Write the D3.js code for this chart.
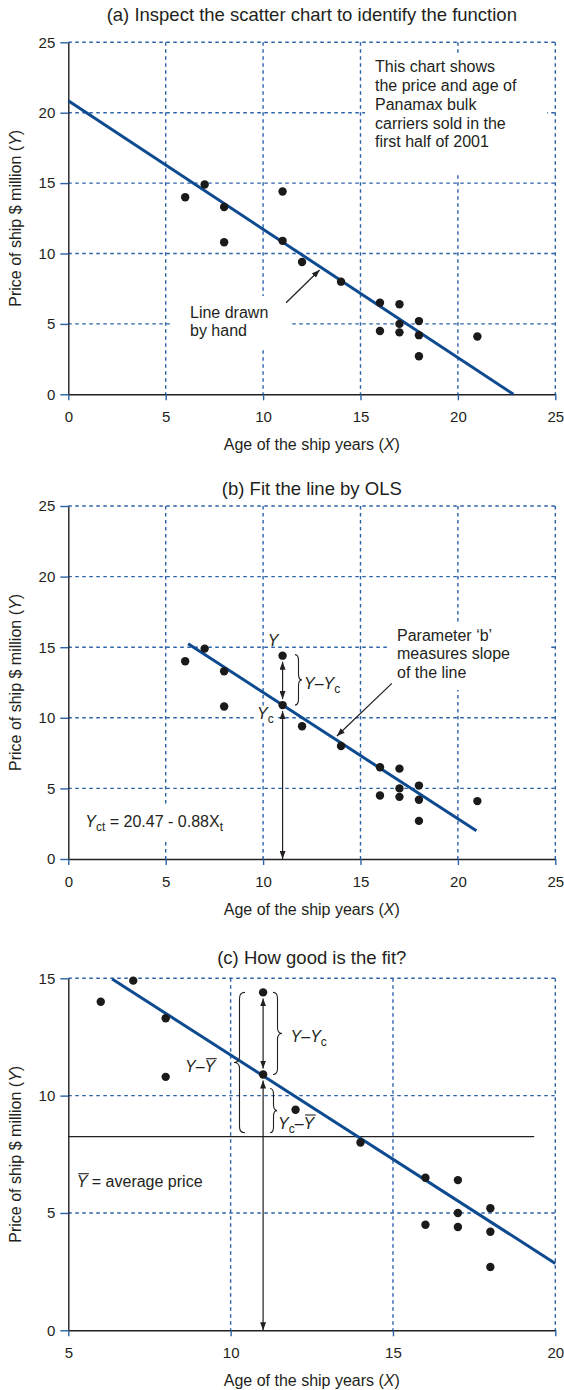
<!DOCTYPE html>
<html>
<head>
<meta charset="utf-8">
<script src="https://cdn.jsdelivr.net/npm/d3@7"></script>
<style>
  body { margin: 0; background: #fff; }
  text { font-family: "Liberation Sans", Arial, sans-serif; fill: #231f20; }
</style>
</head>
<body>
<svg id="chart"></svg>
<script>
// Panamax bulk carriers sold in the first half of 2001
const shipAge   = [6, 7, 11, 8, 8, 11, 12, 14, 16, 17, 16, 17, 17, 18, 18, 18, 21];
const shipPrice = [14.0, 14.9, 14.4, 13.3, 10.8, 10.9, 9.4, 8.0, 6.5, 6.4, 4.5, 5.0, 4.4, 5.2, 4.2, 2.7, 4.1];

// fitted lines
const handLine = [[0, 20.85], [22.85, 0]];
const olsLineB = [[6.15, 15.25], [20.95, 2.0]];
const olsLineC = [[6.35, 14.97], [20, 2.85]];
const avgPrice = 8.25;
const avgLineX = [5, 19.35];

const ticksAB = [0, 5, 10, 15, 20, 25];
const ticksCX = [5, 10, 15, 20];
const ticksCY = [0, 5, 10, 15];

const titles = ["(a) Inspect the scatter chart to identify the function",
                "(b) Fit the line by OLS",
                "(c) How good is the fit?"];
const noteA = ["This chart shows", "the price and age of", "Panamax bulk", "carriers sold in the", "first half of 2001"];
const noteHand = ["Line drawn", "by hand"];
const noteB = ["Parameter \u2018b\u2019", "measures slope", "of the line"];

const W = 564, H = 1390;
const left = 68.3, right = 555.3;
const gridBlue = "#2a62a8", lineBlue = "#0d4a8f", ink = "#231f20";

const svg = d3.select("#chart").attr("width", W).attr("height", H);

const defs = svg.append("defs");
defs.append("marker")
    .attr("id", "head")
    .attr("viewBox", "0 0 8 6")
    .attr("refX", 8).attr("refY", 3)
    .attr("markerWidth", 8).attr("markerHeight", 6)
    .attr("markerUnits", "userSpaceOnUse")
    .attr("orient", "auto-start-reverse")
  .append("path").attr("d", "M0,0L8,3L0,6Z").attr("fill", ink);

const panels = [
  { top: 42.3,  bottom: 394.3,  titleY: 15,    xd: [0, 25], yd: [0, 25], xt: ticksAB, yt: ticksAB },
  { top: 506,   bottom: 859,    titleY: 488.3, xd: [0, 25], yd: [0, 25], xt: ticksAB, yt: ticksAB },
  { top: 978.3, bottom: 1330.3, titleY: 957.3, xd: [5, 20], yd: [0, 15], xt: ticksCX, yt: ticksCY }
];

function drawPanel(p, i) {
  const x = d3.scaleLinear().domain(p.xd).range([left, right]);
  const y = d3.scaleLinear().domain(p.yd).range([p.bottom, p.top]);
  const g = svg.append("g");

  // dotted grid
  g.selectAll(".hg").data(p.yt.slice(1)).join("line")
      .attr("x1", left).attr("x2", right)
      .attr("y1", d => y(d)).attr("y2", d => y(d))
      .attr("stroke", gridBlue).attr("stroke-width", 1.4).attr("stroke-dasharray", "3.5,3.5");
  g.selectAll(".vg").data(p.xt.slice(1)).join("line")
      .attr("y1", p.top).attr("y2", p.bottom)
      .attr("x1", d => x(d)).attr("x2", d => x(d))
      .attr("stroke", gridBlue).attr("stroke-width", 1.4).attr("stroke-dasharray", "3.5,3.5");

  // title + axis titles
  g.append("text").attr("x", (left + right) / 2).attr("y", p.titleY).attr("dy", "0.35em")
      .attr("text-anchor", "middle").style("font-size", "18.5px").text(titles[i]);

  const xl = g.append("text").attr("x", (left + right) / 2).attr("y", p.bottom + 50).attr("dy", "0.35em")
      .attr("text-anchor", "middle").style("font-size", "16px");
  xl.append("tspan").text("Age of the ship years (");
  xl.append("tspan").style("font-style", "italic").text("X");
  xl.append("tspan").text(")");

  const yl = g.append("text")
      .attr("transform", `translate(15,${(p.top + p.bottom) / 2}) rotate(-90)`)
      .attr("dy", "0.35em").attr("text-anchor", "middle").style("font-size", "16px");
  yl.append("tspan").text("Price of ship $ million (");
  yl.append("tspan").style("font-style", "italic").text("Y");
  yl.append("tspan").text(")");

  return { g, x, y, p };
}

function styleAxis(sel) {
  sel.select(".domain").attr("stroke", ink).attr("stroke-width", 1.4);
  sel.selectAll(".tick line").attr("stroke", gridBlue).attr("stroke-width", 1.4);
  sel.selectAll(".tick text").style("font-size", "15px").attr("fill", ink)
      .style("font-family", '"Liberation Sans", Arial, sans-serif');
}

function drawAxes(P) {
  P.g.append("g").attr("transform", `translate(0,${P.p.bottom})`)
      .call(d3.axisBottom(P.x).tickValues(P.p.xt).tickSize(6).tickSizeOuter(0).tickPadding(11))
      .call(styleAxis);
  P.g.append("g").attr("transform", `translate(${left},0)`)
      .call(d3.axisLeft(P.y).tickValues(P.p.yt).tickSize(8).tickSizeOuter(0).tickPadding(5))
      .call(styleAxis);
}

function drawDots(P, filter) {
  const pts = shipAge.map((a, k) => [a, shipPrice[k]]).filter(filter || (() => true));
  P.g.selectAll(".dot").data(pts).join("circle")
      .attr("cx", d => P.x(d[0])).attr("cy", d => P.y(d[1])).attr("r", 4.2).attr("fill", "#1a1a1a");
}

function drawLine(P, pts) {
  P.g.append("path")
      .attr("d", d3.line().x(d => P.x(d[0])).y(d => P.y(d[1]))(pts))
      .attr("fill", "none").attr("stroke", lineBlue).attr("stroke-width", 3);
}

function whiteBox(g, x0, y0, x1, y1) {
  g.append("rect").attr("x", x0).attr("y", y0).attr("width", x1 - x0).attr("height", y1 - y0).attr("fill", "#fff");
}

function lines(g, x, y0, step, arr) {
  arr.forEach((s, k) => g.append("text").attr("x", x).attr("y", y0 + k * step).attr("dy", "0.35em")
      .style("font-size", "16px").text(s));
}

function arrow(g, x1, y1, x2, y2, both) {
  const l = g.append("line").attr("x1", x1).attr("y1", y1).attr("x2", x2).attr("y2", y2)
      .attr("stroke", ink).attr("stroke-width", 1.2).attr("marker-end", "url(#head)");
  if (both) l.attr("marker-start", "url(#head)");
}

function brace(g, x, y1, y2, w) {
  const q = Math.min(6, (y2 - y1) / 4), xm = x + w / 2, ym = (y1 + y2) / 2;
  const d = `M${x},${y1} Q${xm},${y1} ${xm},${y1 + q} L${xm},${ym - q} Q${xm},${ym} ${x + w},${ym}` +
            ` Q${xm},${ym} ${xm},${ym + q} L${xm},${y2 - q} Q${xm},${y2} ${x},${y2}`;
  g.append("path").attr("d", d).attr("fill", "none").attr("stroke", ink).attr("stroke-width", 1.1);
}

// text made of parts: {t, it (italic), sub (subscript), ov (overline)}
function rich(g, x, y, parts, size, anchor) {
  const t = g.append("text").attr("x", x).attr("y", y).attr("dy", "0.35em")
      .style("font-size", size + "px").attr("text-anchor", anchor || "start");
  let shift = 0, idx = 0;
  const over = [];
  parts.forEach(p => {
    const s = t.append("tspan").text(p.t);
    if (p.it) s.style("font-style", "italic");
    const want = p.sub ? 4 : 0;
    if (want !== shift) { s.attr("dy", want - shift); shift = want; }
    if (p.sub) s.style("font-size", (size * 0.75) + "px");
    if (p.ov) over.push(idx);
    idx += p.t.length;
  });
  over.forEach(c => {
    const r = t.node().getExtentOfChar(c);
    g.append("line").attr("x1", r.x + 1.5).attr("x2", r.x + r.width + 1.5)
        .attr("y1", y - 8).attr("y2", y - 8).attr("stroke", ink).attr("stroke-width", 1.1);
  });
  return t;
}

// ---------- panel (a)
const A = drawPanel(panels[0], 0);
whiteBox(A.g, 365, 55, 547, 172);
whiteBox(A.g, 172, 296, 292, 348);
drawAxes(A);
drawLine(A, handLine);
drawDots(A);
lines(A.g, 375, 66.7, 18.75, noteA);
lines(A.g, 190, 312.7, 18, noteHand);
arrow(A.g, A.x(11.18), A.y(6.5), A.x(12.9), A.y(8.83));

// ---------- panel (b)
const B = drawPanel(panels[1], 1);
whiteBox(B.g, 390, 622, 548, 690);
whiteBox(B.g, 80, 805, 228, 840);
whiteBox(B.g, 257, 706, 278, 722);
drawAxes(B);
drawLine(B, olsLineB);
drawDots(B);
lines(B.g, 397, 635, 18.8, noteB);
arrow(B.g, B.x(16.61), B.y(12.44), B.x(13.79), B.y(8.71));
arrow(B.g, B.x(11), B.y(14.4) + 6, B.x(11), B.y(10.9) - 6, true);
arrow(B.g, B.x(11), B.y(10.9) + 6, B.x(11), B.y(0), true);
brace(B.g, 295, B.y(14.4) - 1, B.y(10.9), 7);
rich(B.g, 273, 640, [{ t: "Y", it: true }], 16, "middle");
rich(B.g, 304, 683, [{ t: "Y", it: true }, { t: "\u2013" }, { t: "Y", it: true }, { t: "c", sub: true }], 16);
rich(B.g, 257, 713, [{ t: "Y", it: true }, { t: "c", sub: true }], 16);
rich(B.g, 85.3, 821.7, [{ t: "Y", it: true }, { t: "ct", sub: true }, { t: " = 20.47 - 0.88X" }, { t: "t", sub: true }], 16);

// ---------- panel (c)
const C = drawPanel(panels[2], 2);
drawAxes(C);
C.g.append("line")
    .attr("x1", C.x(avgLineX[0])).attr("x2", C.x(avgLineX[1]))
    .attr("y1", C.y(avgPrice)).attr("y2", C.y(avgPrice))
    .attr("stroke", ink).attr("stroke-width", 1.2);
arrow(C.g, C.x(11), C.y(14.4) + 6, C.x(11), C.y(10.9) - 6, true);
arrow(C.g, C.x(11), C.y(10.9) + 6, C.x(11), C.y(0), true);
drawLine(C, olsLineC);
drawDots(C, d => d[0] <= 20);
brace(C.g, 273, C.y(14.4), C.y(10.9), 9);
brace(C.g, 245, C.y(14.4), C.y(avgPrice) - 4, -11);
brace(C.g, 270, C.y(10.9) + 14, C.y(avgPrice) - 4, 7);
rich(C.g, 290.6, 1036.7, [{ t: "Y", it: true }, { t: "\u2013" }, { t: "Y", it: true }, { t: "c", sub: true }], 16);
rich(C.g, 185, 1066.7, [{ t: "Y", it: true }, { t: "\u2013" }, { t: "Y", it: true, ov: true }], 16);
rich(C.g, 278, 1123, [{ t: "Y", it: true }, { t: "c", sub: true }, { t: "\u2013" }, { t: "Y", it: true, ov: true }], 16);
rich(C.g, 76.7, 1181.7, [{ t: "Y", it: true, ov: true }, { t: " = average price" }], 16);
</script>
</body>
</html>
